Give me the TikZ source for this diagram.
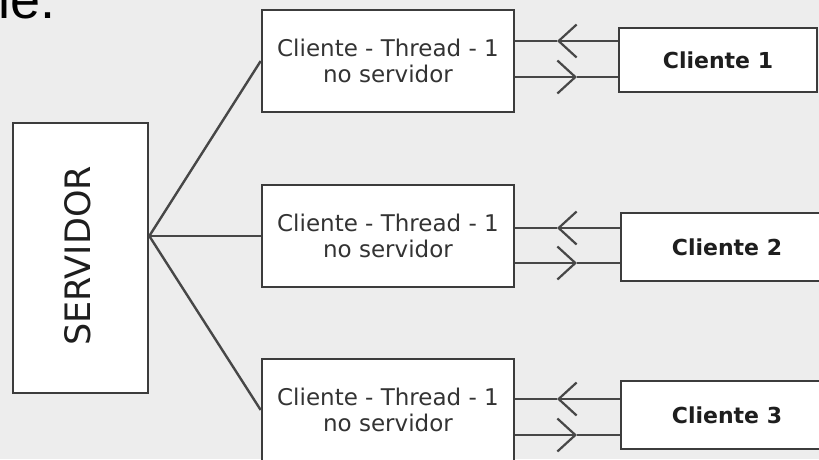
\documentclass[tikz,border=0pt]{standalone}
\usepackage{fontspec}
\setmainfont{DejaVu Sans}
\newfontfamily\arialf{Liberation Sans}
\usetikzlibrary{arrows.meta}
\definecolor{bg}{HTML}{EDEDED}
\definecolor{edge}{HTML}{3C3C3C}
\definecolor{wire}{HTML}{474747}
\definecolor{txt}{HTML}{333333}
\definecolor{btxt}{HTML}{1E1E1E}
\begin{document}
\begin{tikzpicture}[x=1pt,y=-1pt,
  box/.style={draw=edge,fill=white,line width=2.6pt,inner sep=0pt},
  threadbox/.style={box,minimum width=252pt,minimum height=102pt,align=center,
     text=txt,font=\fontsize{23}{26}\selectfont},
  clientbox/.style={box,minimum height=66pt,text=btxt,font=\bfseries\fontsize{22}{26}\selectfont},
  wireline/.style={draw=wire,line width=2.4pt},
  barb/.style={wireline,-{Straight Barb[length=18pt,width=33pt,line width=2.2pt]}}]
\useasboundingbox[fill=bg] (0,0) rectangle (819,459);

% cut-off slide text
\node[anchor=base west,inner sep=0pt,font=\arialf\fontsize{54}{60}\selectfont,text=black] (head) at (-2,18) {le.};

% server
\node[box,minimum width=135pt,minimum height=270pt] (srv) at (80.5,258) {};
\node[rotate=90,text=btxt,font=\fontsize{35}{40}\selectfont] (srvtxt) at (78,256) {SERVIDOR};

% thread boxes
\node[threadbox] (t1) at (388,61) {Cliente - Thread - 1\\no servidor};
\node[threadbox] (t2) at (388,236) {Cliente - Thread - 1\\no servidor};
\node[threadbox] (t3) at (388,410) {Cliente - Thread - 1\\no servidor};

% client boxes
\node[clientbox,minimum width=198pt,minimum height=64pt] (c1) at (718,60) {Cliente 1};
\node[clientbox,minimum width=212pt,minimum height=68pt] (c2) at (727,247) {Cliente 2};
\node[clientbox,minimum width=212pt,minimum height=68pt] (c3) at (727,415) {Cliente 3};

% hub lines
\coordinate (hub) at (srv.east |- t2.west);
\draw[wireline] (hub) -- (t1.west);
\draw[wireline] (hub) -- (t2.west);
\draw[wireline] (hub) -- (t3.west);

% message lines: upper (to thread), lower (to client)
\coordinate (a1) at (557,41);  \coordinate (b1) at (577,77);
\coordinate (a2) at (557,228); \coordinate (b2) at (577,263);
\coordinate (a3) at (557,399); \coordinate (b3) at (577,435);

\foreach \i in {1,2,3}{
  \draw[barb] (c\i.west |- a\i) -- (a\i);
  \draw[wireline] (a\i) -- (t\i.east |- a\i);
  \draw[barb] (t\i.east |- b\i) -- (b\i);
  \draw[wireline] (b\i) -- (c\i.west |- b\i);
}
\end{tikzpicture}
\end{document}
